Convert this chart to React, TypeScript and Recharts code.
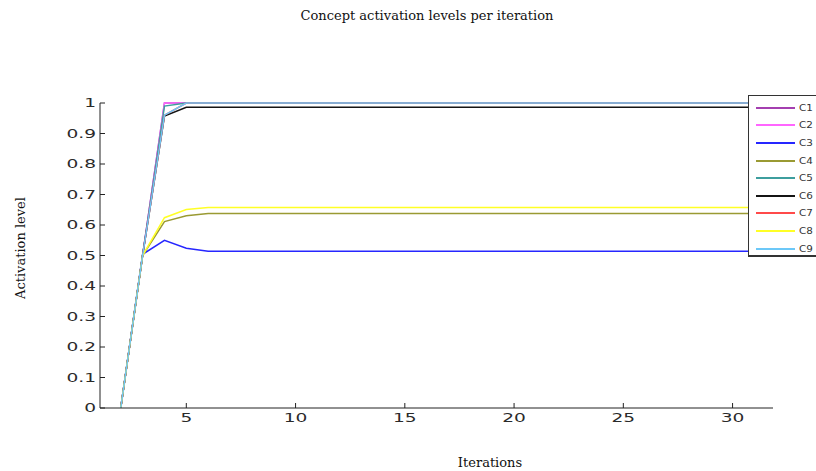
import React from 'react';
import { LineChart, Line, XAxis, YAxis, Legend } from 'recharts';

const iterations = [2, 3, 4, 5, 6, 7, 8, 9, 10, 11, 12, 13, 14, 15, 16, 17, 18, 19, 20, 21, 22, 23, 24, 25, 26, 27, 28, 29, 30, 31];

const c1 = [0, 0.5, 1, 1, 1, 1, 1, 1, 1, 1, 1, 1, 1, 1, 1, 1, 1, 1, 1, 1, 1, 1, 1, 1, 1, 1, 1, 1, 1, 1];
const c2 = [0, 0.5, 1, 1, 1, 1, 1, 1, 1, 1, 1, 1, 1, 1, 1, 1, 1, 1, 1, 1, 1, 1, 1, 1, 1, 1, 1, 1, 1, 1];
const c3 = [0, 0.504, 0.55, 0.524, 0.514, 0.514, 0.514, 0.514, 0.514, 0.514, 0.514, 0.514, 0.514, 0.514, 0.514, 0.514, 0.514, 0.514, 0.514, 0.514, 0.514, 0.514, 0.514, 0.514, 0.514, 0.514, 0.514, 0.514, 0.514, 0.514];
const c4 = [0, 0.5, 0.611, 0.63, 0.638, 0.638, 0.638, 0.638, 0.638, 0.638, 0.638, 0.638, 0.638, 0.638, 0.638, 0.638, 0.638, 0.638, 0.638, 0.638, 0.638, 0.638, 0.638, 0.638, 0.638, 0.638, 0.638, 0.638, 0.638, 0.638];
const c5 = [0, 0.5, 0.99, 1, 1, 1, 1, 1, 1, 1, 1, 1, 1, 1, 1, 1, 1, 1, 1, 1, 1, 1, 1, 1, 1, 1, 1, 1, 1, 1];
const c6 = [0, 0.5, 0.957, 0.986, 0.986, 0.986, 0.986, 0.986, 0.986, 0.986, 0.986, 0.986, 0.986, 0.986, 0.986, 0.986, 0.986, 0.986, 0.986, 0.986, 0.986, 0.986, 0.986, 0.986, 0.986, 0.986, 0.986, 0.986, 0.986, 0.986];
const c7 = [0, 0.5, 0.96, 1, 1, 1, 1, 1, 1, 1, 1, 1, 1, 1, 1, 1, 1, 1, 1, 1, 1, 1, 1, 1, 1, 1, 1, 1, 1, 1];
const c8 = [0, 0.5, 0.624, 0.651, 0.657, 0.657, 0.657, 0.657, 0.657, 0.657, 0.657, 0.657, 0.657, 0.657, 0.657, 0.657, 0.657, 0.657, 0.657, 0.657, 0.657, 0.657, 0.657, 0.657, 0.657, 0.657, 0.657, 0.657, 0.657, 0.657];
const c9 = [0, 0.5, 0.96, 1, 1, 1, 1, 1, 1, 1, 1, 1, 1, 1, 1, 1, 1, 1, 1, 1, 1, 1, 1, 1, 1, 1, 1, 1, 1, 1];

const seriesNames = ['C1', 'C2', 'C3', 'C4', 'C5', 'C6', 'C7', 'C8', 'C9'];
const seriesValues = [c1, c2, c3, c4, c5, c6, c7, c8, c9];
const seriesColors = ['#a43fb0', '#ff66ff', '#2626ff', '#9a9a33', '#3d9e9e', '#141414', '#ff4a4a', '#ffff26', '#6cc8f8'];

const xTicks = [5, 10, 15, 20, 25, 30];
const yTicks = [0, 0.1, 0.2, 0.3, 0.4, 0.5, 0.6, 0.7, 0.8, 0.9, 1];

const data = iterations.map((it, i) => {
  const row: Record<string, number> = { it };
  seriesNames.forEach((n, s) => {
    row[n] = seriesValues[s][i];
  });
  return row;
});

// the tick font in the source is a wide, stretched sans
const StretchTick = (props: any) => {
  const { x, y, payload, anchor, dy } = props;
  return (
    <g transform={`translate(${x},${y}) scale(1.55,1)`}>
      <text x={0} y={0} dy={dy} textAnchor={anchor} fontFamily="DejaVu Sans" fontSize={12} fill="#2a2a2a">
        {payload.value}
      </text>
    </g>
  );
};

const serif = { fontFamily: 'DejaVu Serif', fontSize: 13, color: '#111' };

const renderLegend = (props: any) => (
  <div
    style={{
      width: 80,
      height: 162,
      border: '1px solid #333',
      borderRight: 'none',
      borderBottomWidth: 2,
      background: '#fff',
      boxSizing: 'border-box',
      paddingTop: 3,
    }}
  >
    {(props.payload || []).map((p: any) => (
      <div key={p.value} style={{ display: 'flex', alignItems: 'center', height: 17.6 }}>
        <div style={{ marginLeft: 7, width: 39, height: 2, background: p.color }} />
        <span
          style={{
            marginLeft: 4,
            display: 'inline-block',
            transform: 'scaleX(1.15)',
            transformOrigin: 'left center',
            fontFamily: 'DejaVu Sans',
            fontSize: 9,
            color: '#333',
          }}
        >
          {p.value}
        </span>
      </div>
    ))}
  </div>
);

export default function App() {
  return (
    <div style={{ position: 'absolute', left: 0, top: 0, width: 816, height: 471, background: '#fff', overflow: 'hidden' }}>
      <LineChart width={816} height={471} data={data} margin={{ top: 103, right: 43, bottom: 0, left: 0 }}>
        <XAxis
          dataKey="it"
          type="number"
          domain={[1.05, 31.85]}
          ticks={xTicks}
          height={63}
          tickSize={-5}
          tickMargin={19}
          stroke="#222"
          tick={(p: any) => <StretchTick {...p} anchor="middle" dy={0} />}
        />
        <YAxis
          type="number"
          domain={[0, 1]}
          ticks={yTicks}
          width={100}
          tickSize={-5}
          tickMargin={9}
          stroke="#222"
          tick={(p: any) => <StretchTick {...p} anchor="end" dy={4.3} />}
        />
        <Legend
          layout="vertical"
          align="center"
          verticalAlign="middle"
          content={renderLegend}
          wrapperStyle={{ position: 'absolute', left: 748, top: 95, width: 80 }}
        />
        {seriesNames.map((n, s) => (
          <Line
            key={n}
            dataKey={n}
            name={n}
            stroke={seriesColors[s]}
            strokeWidth={1.5}
            dot={false}
            type="linear"
            isAnimationActive={false}
          />
        ))}
      </LineChart>
      <div style={{ ...serif, position: 'absolute', left: 427, top: 15, transform: 'translate(-50%, -50%)', whiteSpace: 'nowrap' }}>
        Concept activation levels per iteration
      </div>
      <div style={{ ...serif, position: 'absolute', left: 490, top: 462, transform: 'translate(-50%, -50%)', whiteSpace: 'nowrap' }}>
        Iterations
      </div>
      <div style={{ ...serif, position: 'absolute', left: 20, top: 248, transform: 'translate(-50%, -50%) rotate(-90deg)', whiteSpace: 'nowrap' }}>
        Activation level
      </div>
    </div>
  );
}
